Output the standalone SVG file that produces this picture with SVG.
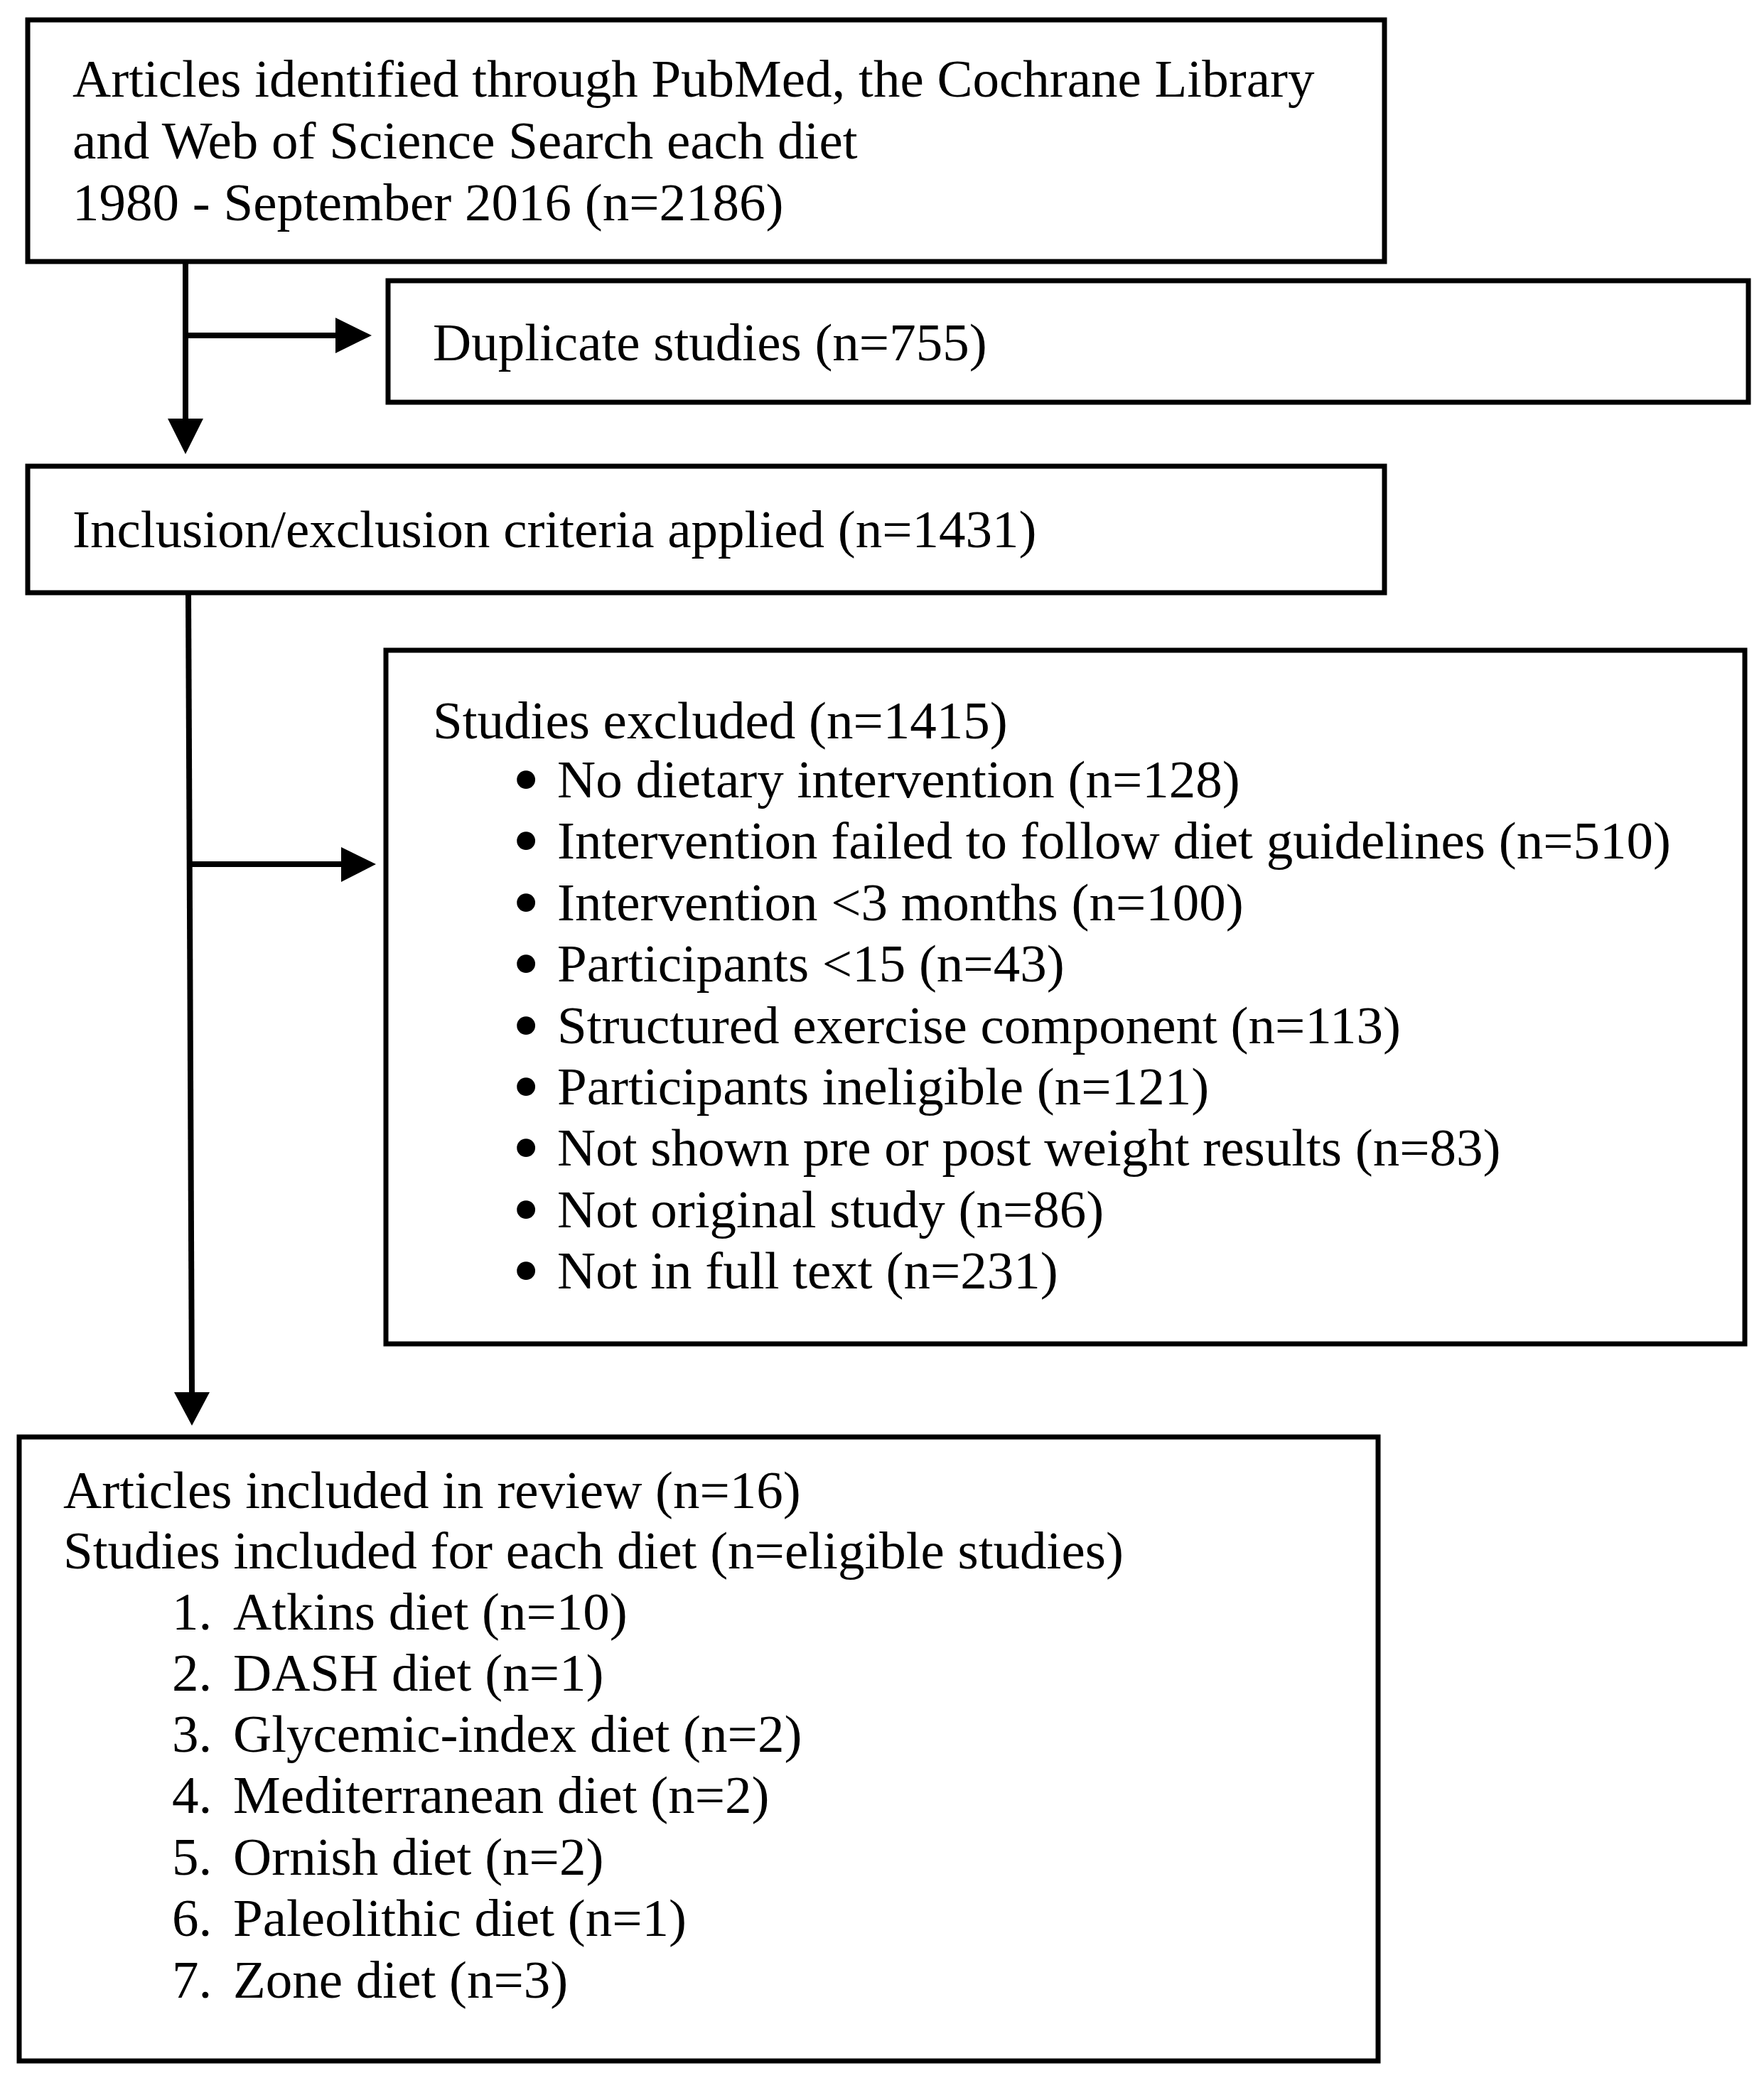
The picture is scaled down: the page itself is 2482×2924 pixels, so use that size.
<svg xmlns="http://www.w3.org/2000/svg" width="2482" height="2924" viewBox="0 0 2482 2924">
<style>
.box{fill:#fff;stroke:#000;stroke-width:7}
.t{font-family:"Liberation Serif","Times New Roman",serif;font-size:75px;fill:#000}
.b{stroke:#000;stroke-width:8;stroke-linejoin:round}
.ln{stroke:#000;stroke-width:8;fill:none}
.ah{fill:#000}
</style>
<rect width="2482" height="2924" fill="#fff"/>
<g id="connectors">
<line class="ln" x1="261" y1="371" x2="261" y2="592"/>
<polygon class="ah" points="236,589 286,589 261,639"/>
<line class="ln" x1="261" y1="472" x2="475" y2="472"/>
<polygon class="ah" points="472,447 472,497 523,472"/>
<line class="ln" x1="265" y1="834" x2="270" y2="1962"/>
<polygon class="ah" points="245,1959 295,1959 270,2006"/>
<line class="ln" x1="266" y1="1216" x2="483" y2="1216"/>
<polygon class="ah" points="480,1192 480,1241 529,1216"/>
</g>
<g id="n1">
<rect class="box" x="39" y="28" width="1909" height="340"/>
<text class="t" x="102" y="136">Articles identified through PubMed, the Cochrane Library</text>
<text class="t" x="102" y="223">and Web of Science Search each diet</text>
<text class="t" x="102" y="310">1980 - September 2016 (n=2186)</text>
</g>
<g id="n2">
<rect class="box" x="546" y="395" width="1914" height="171"/>
<text class="t" x="609" y="507">Duplicate studies (n=755)</text>
</g>
<g id="n3">
<rect class="box" x="39" y="656" width="1909" height="178"/>
<text class="t" x="102" y="770">Inclusion/exclusion criteria applied (n=1431)</text>
</g>
<g id="n4">
<rect class="box" x="543" y="915" width="1912" height="976"/>
<text class="t" x="609" y="1039">Studies excluded (n=1415)</text>
<text class="t" y="1122"><tspan class="b" x="727">•</tspan><tspan x="784">No dietary intervention (n=128)</tspan></text>
<text class="t" y="1208"><tspan class="b" x="727">•</tspan><tspan x="784">Intervention failed to follow diet guidelines (n=510)</tspan></text>
<text class="t" y="1295"><tspan class="b" x="727">•</tspan><tspan x="784">Intervention &lt;3 months (n=100)</tspan></text>
<text class="t" y="1381"><tspan class="b" x="727">•</tspan><tspan x="784">Participants &lt;15 (n=43)</tspan></text>
<text class="t" y="1468"><tspan class="b" x="727">•</tspan><tspan x="784">Structured exercise component (n=113)</tspan></text>
<text class="t" y="1554"><tspan class="b" x="727">•</tspan><tspan x="784">Participants ineligible (n=121)</tspan></text>
<text class="t" y="1640"><tspan class="b" x="727">•</tspan><tspan x="784">Not shown pre or post weight results (n=83)</tspan></text>
<text class="t" y="1727"><tspan class="b" x="727">•</tspan><tspan x="784">Not original study (n=86)</tspan></text>
<text class="t" y="1813"><tspan class="b" x="727">•</tspan><tspan x="784">Not in full text (n=231)</tspan></text>
</g>
<g id="n5">
<rect class="box" x="27" y="2022" width="1912" height="878"/>
<text class="t" x="89" y="2122">Articles included in review (n=16)</text>
<text class="t" x="89" y="2207">Studies included for each diet (n=eligible studies)</text>
<text class="t" y="2293"><tspan x="242">1.</tspan><tspan x="328">Atkins diet (n=10)</tspan></text>
<text class="t" y="2379"><tspan x="242">2.</tspan><tspan x="328">DASH diet (n=1)</tspan></text>
<text class="t" y="2465"><tspan x="242">3.</tspan><tspan x="328">Glycemic-index diet (n=2)</tspan></text>
<text class="t" y="2551"><tspan x="242">4.</tspan><tspan x="328">Mediterranean diet (n=2)</tspan></text>
<text class="t" y="2638"><tspan x="242">5.</tspan><tspan x="328">Ornish diet (n=2)</tspan></text>
<text class="t" y="2724"><tspan x="242">6.</tspan><tspan x="328">Paleolithic diet (n=1)</tspan></text>
<text class="t" y="2811"><tspan x="242">7.</tspan><tspan x="328">Zone diet (n=3)</tspan></text>
</g>
</svg>
